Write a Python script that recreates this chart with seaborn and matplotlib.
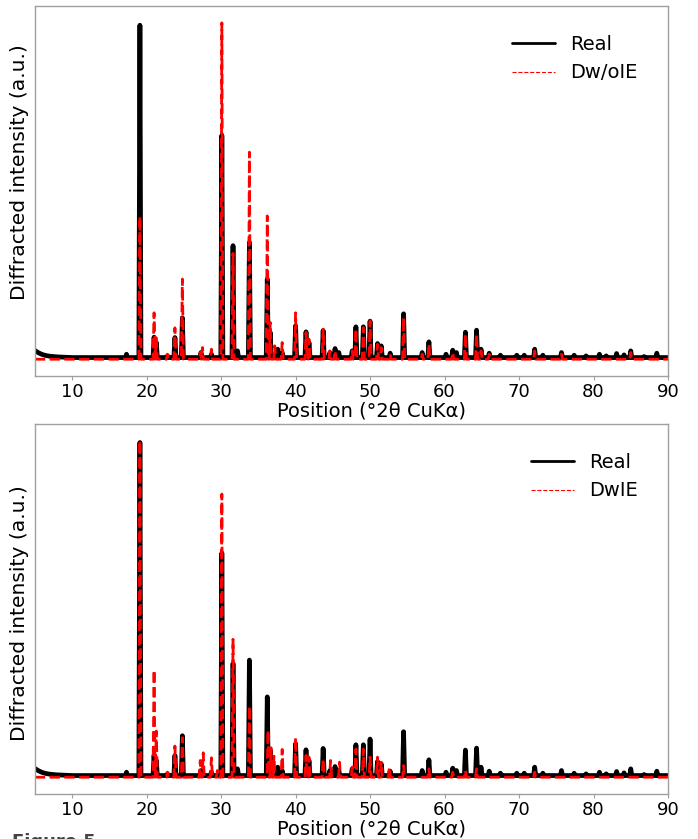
import numpy as np
import pandas as pd
import matplotlib
matplotlib.use('Agg')
import matplotlib.pyplot as plt
import seaborn as sns
from matplotlib.lines import Line2D

# background of the measured pattern at low angle
real_bg_x = [5.0, 5.5, 6.0, 6.5, 7.0, 8.0, 9.0, 10.0, 90.0]
real_bg_y = [2.6, 1.9, 1.4, 1.1, 0.9, 0.7, 0.6, 0.5, 0.5]

# measured pattern (Real), peak positions (deg 2theta) and heights
real_pos = [17.3, 19.1, 21.0, 21.3, 22.8, 23.8, 24.8, 27.3, 28.7, 30.1, 31.6, 32.2,
            33.8, 36.2, 36.6, 37.6, 38.2, 40.0, 41.4, 41.8, 43.7, 44.6, 45.3, 45.8,
            47.6, 48.1, 49.1, 50.0, 51.0, 51.5, 52.7, 54.5, 57.0, 57.9, 60.2, 61.1,
            61.6, 62.8, 64.3, 64.9, 66.0, 67.5, 69.7, 70.7, 72.1, 73.2, 75.7, 77.4,
            79.0, 80.8, 81.7, 83.1, 84.1, 85.0, 86.8, 88.5]
real_int = [1.5, 100, 6.6, 5.0, 1.0, 6.5, 12.4, 2.0, 1.5, 67, 34, 2.5,
            35, 24, 8, 3, 2, 10, 8.2, 5, 8.6, 2, 3.2, 2.0,
            2.5, 9.7, 9.7, 11.4, 4.7, 4.0, 1.8, 13.6, 2, 5.2, 1.5, 2.7,
            2, 8.1, 8.7, 3, 1.8, 1.2, 1.2, 1.2, 3, 1.2, 2, 1.2,
            1, 1.5, 1, 1.7, 1.3, 2.5, 0.8, 1.8]

# simulated pattern without IE (Dw/oIE)
dwo_pos = [19.1, 21.0, 21.3, 22.8, 23.8, 24.8, 27.2, 27.5, 28.7, 30.1, 31.6, 33.8,
           36.2, 36.6, 37.2, 38.2, 40.0, 41.4, 41.8, 43.7, 44.6, 45.3, 47.6, 48.1,
           49.1, 50.0, 51.0, 51.5, 52.7, 54.5, 57.0, 57.9, 61.1, 62.8, 64.3, 64.9,
           66.0, 72.1, 75.7, 85.0]
dwo_int = [42.7, 13.9, 6.4, 1.5, 9.4, 24, 2, 3.5, 3, 100.7, 31.7, 62,
           42.9, 11, 4, 5, 13.9, 8, 6, 9, 2.5, 2.5, 2.5, 9,
           9.5, 11.5, 4.5, 3.5, 1.5, 12.5, 1.5, 4.5, 2, 7.5, 7.5, 2.5,
           1.5, 2.5, 1.5, 2]

# simulated pattern with IE (DwIE)
dw_pos = [19.1, 21.0, 21.3, 22.8, 23.8, 24.8, 27.2, 27.6, 28.7, 29.5, 30.1, 31.6,
          33.8, 36.3, 36.7, 37.1, 38.2, 40.0, 41.4, 41.8, 43.7, 44.7, 45.9, 47.6,
          48.1, 49.1, 50.0, 51.0, 51.5, 52.6, 54.5, 57.9, 61.1, 62.8, 64.3, 72.1]
dw_int = [100.5, 32, 13.8, 1.5, 9.3, 11.8, 5, 7.3, 5.8, 2, 84.6, 41.2,
          21.2, 14, 8.8, 6.3, 8.3, 11.8, 6.5, 6, 5.4, 5, 4.5, 3,
          8.4, 8.4, 6, 6, 4.5, 3, 3.5, 2.5, 1.5, 2, 2.5, 1.5]

xticks = [10, 20, 30, 40, 50, 60, 70, 80, 90]


def profile(pos, inten, bx, by, hw=0.14):
    # stick-like profile: each peak rises from the baseline and falls back
    xs, ys = list(bx[:-1]), list(by[:-1])
    base = by[-1]
    for p, h in zip(pos, inten):
        xs += [p - hw, p, p + hw]
        ys += [base, h, base]
    xs.append(bx[-1])
    ys.append(by[-1])
    return pd.DataFrame({'x': xs, 'y': ys})


sns.set_style('white')
plt.rcParams['font.family'] = ['DejaVu Sans']
plt.rcParams['axes.edgecolor'] = '#a0a0a0'
plt.rcParams['axes.linewidth'] = 1.0
plt.rcParams['text.color'] = 'black'
plt.rcParams['axes.labelcolor'] = 'black'

fig = plt.figure(figsize=(6.98, 8.39), dpi=100)
ax1 = fig.add_axes([0.050, 0.5518, 0.907, 0.441])
ax2 = fig.add_axes([0.050, 0.0536, 0.907, 0.441])

real_df = profile(real_pos, real_int, real_bg_x, real_bg_y)
panels = [(ax1, dwo_pos, dwo_int, 'Dw/oIE', 0.551),
          (ax2, dw_pos, dw_int, 'DwIE', 0.489)]

for ax, pos, inten, name, ylab in panels:
    sim_df = profile(pos, inten, [5.0, 90.0], [0.0, 0.0])
    sns.lineplot(data=real_df, x='x', y='y', ax=ax, color='black', lw=3.4,
                 estimator=None, sort=False)
    sns.lineplot(data=sim_df, x='x', y='y', ax=ax, color='red', lw=2,
                 linestyle='--', estimator=None, sort=False)
    ax.set_xlim(5, 90)
    ax.set_xticks(xticks)
    ax.set_yticks([])
    ax.tick_params(axis='x', labelsize=13, length=3, color='#a0a0a0',
                   labelcolor='black', bottom=True, pad=2)
    ax.set_xlabel('Position (°2θ CuKα)', fontsize=14)
    ax.set_ylabel('Diffracted intensity (a.u.)', fontsize=14.6)
    ax.xaxis.set_label_coords(0.532, -0.068)
    ax.yaxis.set_label_coords(-0.009, ylab)
    handles = [Line2D([], [], color='black', lw=2),
               Line2D([], [], color='red', lw=0.8, linestyle='--')]
    ax.legend(handles, ['Real', name], loc='upper right', frameon=False,
              fontsize=14, bbox_to_anchor=(0.98, 0.97), handlelength=2.2)

fig.text(0.017, 0.0075, 'Figure 5', fontsize=13, fontweight='bold',
         color='#444444', va='top', ha='left')

fig.savefig('out.png', dpi=100)
